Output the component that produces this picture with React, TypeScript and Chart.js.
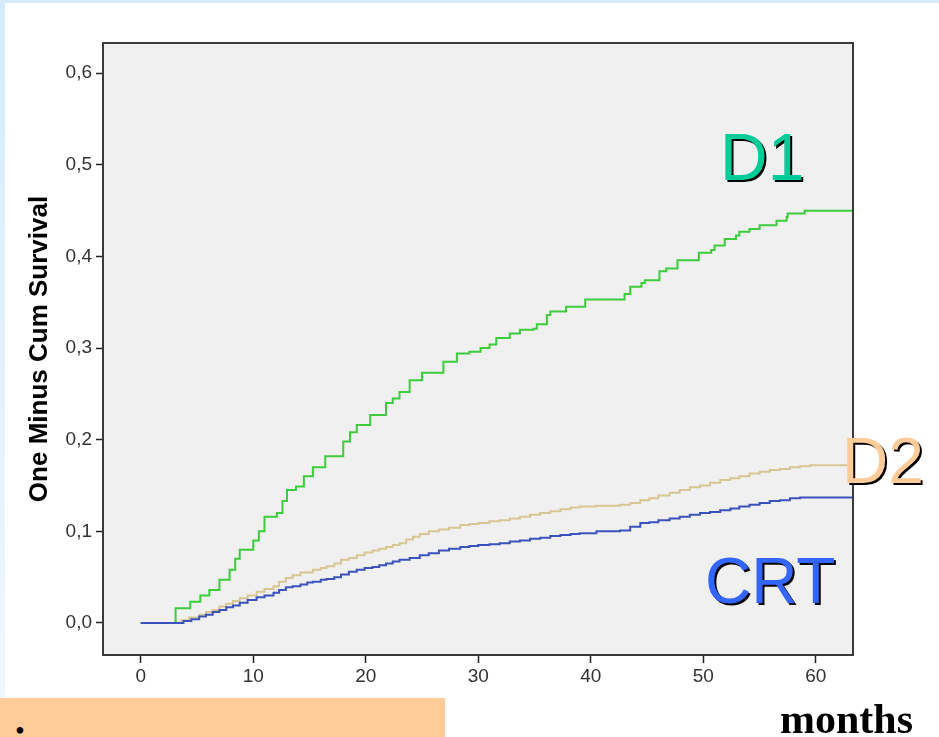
import React, { useEffect, useRef } from "react";
import { Chart, registerables } from "chart.js";

Chart.register(...registerables);

// ---- data ----
const xTickValues = [0, 10, 20, 30, 40, 50, 60];
const yTickValues = [0, 0.1, 0.2, 0.3, 0.4, 0.5, 0.6];

const d1Months = [0, 3.1, 4.4, 5.3, 6.1, 7.0, 7.9, 8.4, 8.8, 10, 10.5, 11, 12.1, 12.6, 13, 13.8, 14.5, 15.3, 16.4, 18, 18.6, 19.2, 20.4, 21.8, 22.4, 23, 23.9, 25, 26.9, 28.1, 29.2, 30.2, 31, 31.6, 32.8, 33.7, 34.9, 35.2, 36.1, 36.4, 37.8, 39.5, 43, 43.5, 44.5, 44.8, 46.1, 46.7, 47.7, 49.6, 50.7, 51, 51.9, 52.9, 53.2, 54.1, 55, 56.5, 57.4, 57.5, 59, 63.3];
const d1Values = [0, 0.016, 0.023, 0.03, 0.036, 0.047, 0.058, 0.07, 0.08, 0.09, 0.1, 0.116, 0.12, 0.133, 0.145, 0.149, 0.16, 0.17, 0.182, 0.198, 0.208, 0.216, 0.227, 0.24, 0.245, 0.252, 0.265, 0.273, 0.285, 0.294, 0.296, 0.3, 0.304, 0.311, 0.316, 0.32, 0.321, 0.326, 0.336, 0.34, 0.345, 0.353, 0.359, 0.367, 0.371, 0.374, 0.384, 0.387, 0.396, 0.404, 0.407, 0.412, 0.419, 0.423, 0.427, 0.43, 0.434, 0.439, 0.443, 0.447, 0.45, 0.45];

const d2Months = [0, 3.0, 3.6, 4.3, 5.2, 5.8, 6.4, 7.0, 7.6, 8.2, 8.8, 9.5, 10.3, 11, 11.8, 12.3, 12.9, 13.5, 14.2, 15.3, 16, 16.5, 17.2, 17.8, 18.5, 19.2, 19.9, 20.6, 21.2, 21.8, 22.4, 23, 23.6, 24.2, 24.8, 25.6, 26.5, 27.4, 28.4, 29.2, 30, 31, 31.9, 32.8, 33.7, 34.6, 35.5, 36.4, 37.3, 38.2, 39, 40.5, 42.6, 43.5, 44.4, 45.2, 46, 47, 47.9, 48.8, 49.7, 50.6, 51.5, 52.4, 53.2, 54.1, 55, 55.9, 56.8, 57.7, 58.6, 59.5, 63.3];
const d2Values = [0, 0, 0.003, 0.006, 0.009, 0.012, 0.014, 0.018, 0.021, 0.024, 0.027, 0.03, 0.034, 0.037, 0.04, 0.045, 0.049, 0.052, 0.055, 0.058, 0.06, 0.062, 0.065, 0.069, 0.071, 0.074, 0.077, 0.079, 0.081, 0.083, 0.085, 0.087, 0.091, 0.094, 0.097, 0.1, 0.102, 0.104, 0.107, 0.108, 0.109, 0.111, 0.112, 0.114, 0.116, 0.118, 0.12, 0.122, 0.124, 0.126, 0.127, 0.128, 0.129, 0.131, 0.134, 0.136, 0.139, 0.142, 0.145, 0.148, 0.15, 0.153, 0.156, 0.158, 0.16, 0.163, 0.165, 0.167, 0.168, 0.17, 0.171, 0.172, 0.172];

const crtMonths = [0, 3.2, 3.8, 4.5, 5.2, 5.8, 6.4, 7.0, 7.6, 8.2, 8.8, 9.5, 10.3, 11, 11.8, 12.3, 12.9, 13.5, 14.2, 14.8, 15.3, 16, 16.5, 17.2, 17.8, 18.5, 19.2, 19.9, 20.6, 21.2, 21.8, 22.4, 23, 23.9, 24.8, 25.6, 26.5, 27.4, 28.4, 29.2, 30, 31, 31.9, 32.8, 33.7, 34.6, 35.5, 36.4, 37.3, 38.2, 39, 40.5, 42.6, 43.5, 44.4, 45.2, 46, 47, 47.9, 48.8, 49.7, 50.6, 51.5, 52.4, 53.2, 54.1, 55, 55.9, 56.8, 57.7, 58.6, 63.3];
const crtValues = [0, 0, 0.002, 0.004, 0.007, 0.009, 0.012, 0.014, 0.017, 0.019, 0.022, 0.025, 0.028, 0.03, 0.033, 0.036, 0.039, 0.04, 0.042, 0.044, 0.045, 0.047, 0.048, 0.05, 0.053, 0.056, 0.058, 0.06, 0.061, 0.063, 0.065, 0.067, 0.069, 0.071, 0.074, 0.076, 0.079, 0.081, 0.083, 0.084, 0.085, 0.086, 0.087, 0.089, 0.09, 0.092, 0.093, 0.095, 0.096, 0.097, 0.098, 0.1, 0.101, 0.105, 0.109, 0.11, 0.112, 0.114, 0.116, 0.118, 0.12, 0.121, 0.123, 0.125, 0.127, 0.129, 0.131, 0.133, 0.134, 0.136, 0.137, 0.137];

const seriesNames = ["D1", "D2", "CRT"];
const yAxisTitle = "One Minus Cum Survival";
const xAxisTitle = "months";

const toPoints = (xs: number[], ys: number[]) => xs.map((x, i) => ({ x, y: ys[i] }));

const framePlugin = {
  id: "frame",
  beforeDraw(chart: any) {
    const { ctx, chartArea } = chart;
    const { left, top, right, bottom } = chartArea;
    ctx.save();
    ctx.fillStyle = "#f0f0f0";
    ctx.fillRect(left, top, right - left, bottom - top);
    ctx.restore();
  },
  afterDatasetsDraw(chart: any) {
    const { ctx, chartArea } = chart;
    const { left, top, right, bottom } = chartArea;
    ctx.save();
    ctx.strokeStyle = "#3a3a3a";
    ctx.lineWidth = 2;
    ctx.strokeRect(left, top, right - left, bottom - top);
    ctx.restore();
  },
};

const tickFont = { family: "'Liberation Sans', Arial, sans-serif", size: 19 };

export default function App() {
  const canvasRef = useRef<HTMLCanvasElement | null>(null);

  useEffect(() => {
    if (!canvasRef.current) return;
    const chart = new Chart(canvasRef.current, {
      type: "line",
      data: {
        datasets: [
          {
            label: seriesNames[2],
            data: toPoints(crtMonths, crtValues),
            borderColor: "#3a52bc",
            borderWidth: 2,
            pointRadius: 0,
            stepped: "before",
            fill: false,
          },
          {
            label: seriesNames[1],
            data: toPoints(d2Months, d2Values),
            borderColor: "#d8c692",
            borderWidth: 2,
            pointRadius: 0,
            stepped: "before",
            fill: false,
          },
          {
            label: seriesNames[0],
            data: toPoints(d1Months, d1Values),
            borderColor: "#3ccc3c",
            borderWidth: 2,
            pointRadius: 0,
            stepped: "before",
            fill: false,
          },
        ],
      },
      options: {
        animation: false,
        responsive: false,
        maintainAspectRatio: false,
        layout: { padding: { left: 0, right: 86, top: 43, bottom: 0 } },
        plugins: { legend: { display: false }, tooltip: { enabled: false } },
        scales: {
          x: {
            type: "linear",
            min: -3.35,
            max: 63.3,
            afterBuildTicks: (s: any) => {
              s.ticks = xTickValues.map((v) => ({ value: v }));
            },
            afterFit: (s: any) => {
              s.height = 82;
            },
            grid: {
              drawOnChartArea: false,
              drawTicks: true,
              tickLength: 8,
              tickColor: "#222",
              tickWidth: 1.5,
            },
            border: { display: false },
            ticks: {
              color: "#333",
              font: tickFont,
              padding: 2,
              maxRotation: 0,
              autoSkip: false,
              callback: (v: any) => String(v),
            },
          },
          y: {
            type: "linear",
            min: -0.035,
            max: 0.633,
            afterBuildTicks: (s: any) => {
              s.ticks = yTickValues.map((v) => ({ value: v }));
            },
            afterFit: (s: any) => {
              s.width = 103;
            },
            grid: {
              drawOnChartArea: false,
              drawTicks: true,
              tickLength: 7,
              tickColor: "#222",
              tickWidth: 1.5,
            },
            border: { display: false },
            title: {
              display: true,
              text: yAxisTitle,
              color: "#000",
              font: { family: "'Liberation Sans', Arial, sans-serif", size: 26, weight: "bold" },
              padding: { top: 24, bottom: 0 },
            },
            ticks: {
              color: "#333",
              font: tickFont,
              padding: 4,
              autoSkip: false,
              callback: (v: any) => Number(v).toFixed(1).replace(".", ","),
            },
          },
        },
      },
      plugins: [framePlugin],
    } as any);
    return () => chart.destroy();
  }, []);

  const labelBase: React.CSSProperties = {
    position: "absolute",
    fontFamily: "'Liberation Sans', Arial, sans-serif",
    lineHeight: 1,
    whiteSpace: "nowrap",
    textShadow: "2px 2px 0 #000",
  };

  return (
    <div
      style={{
        position: "fixed",
        left: 0,
        top: 0,
        width: 939,
        height: 737,
        overflow: "hidden",
        background: "#ffffff",
      }}
    >
      <div style={{ position: "absolute", left: 0, top: 0, width: 939, height: 3, background: "#d4ecfb" }} />
      <div
        style={{
          position: "absolute",
          left: 0,
          top: 0,
          width: 5,
          height: 737,
          background: "linear-gradient(#d4ecfb, #f0f8fe)",
        }}
      />
      <div style={{ position: "absolute", left: 0, top: 698, width: 445, height: 39, background: "#ffcc99" }} />
      <div
        style={{
          position: "absolute",
          left: 15,
          top: 717,
          fontFamily: "'Liberation Serif', 'Times New Roman', serif",
          fontSize: 28,
          lineHeight: 1,
          color: "#000",
        }}
      >
        •
      </div>
      <canvas ref={canvasRef} width={939} height={737} style={{ position: "absolute", left: 0, top: 0 }} />
      <div style={{ ...labelBase, left: 720, top: 124, fontSize: 66, color: "#00cc99" }}>{seriesNames[0]}</div>
      <div style={{ ...labelBase, left: 842, top: 429, fontSize: 64, color: "#ffcc99" }}>{seriesNames[1]}</div>
      <div style={{ ...labelBase, left: 705, top: 549, fontSize: 64, color: "#3366ff" }}>{seriesNames[2]}</div>
      <div
        style={{
          position: "absolute",
          left: 780,
          top: 698,
          fontFamily: "'Liberation Serif', 'Times New Roman', serif",
          fontWeight: "bold",
          fontSize: 42,
          lineHeight: 1,
          color: "#000",
          whiteSpace: "nowrap",
        }}
      >
        {xAxisTitle}
      </div>
    </div>
  );
}
